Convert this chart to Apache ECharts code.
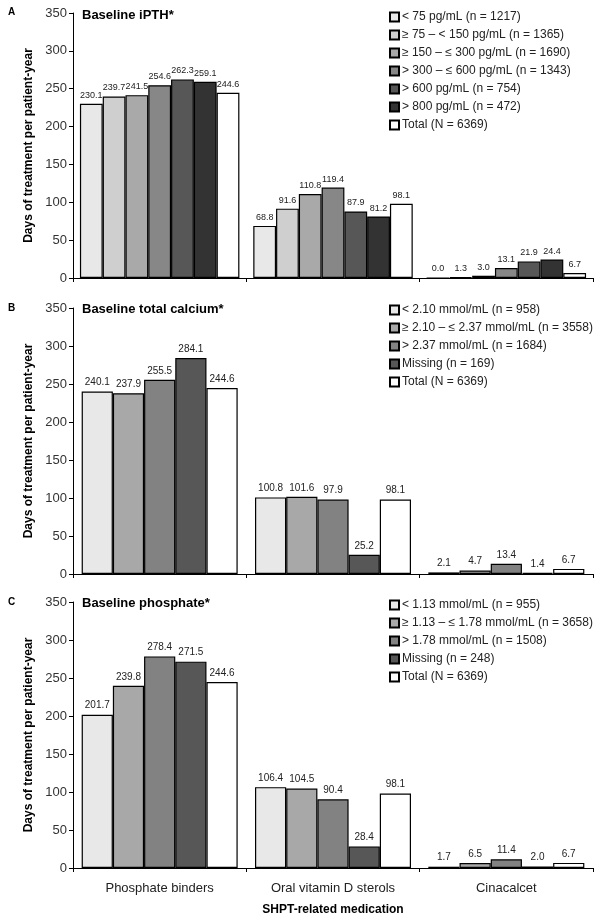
<!DOCTYPE html>
<html>
<head>
<meta charset="utf-8">
<script src="https://cdn.jsdelivr.net/npm/echarts@6/dist/echarts.min.js"></script>
<style>
  html, body { margin: 0; padding: 0; background: #fff; }
  #main { width: 600px; height: 920px; }
</style>
</head>
<body>
<div id="main"></div>
<script>
var categories = ['Phosphate binders', 'Oral vitamin D sterols', 'Cinacalcet'];

// Panel A: baseline iPTH
var pthNames = [
  '< 75 pg/mL (n = 1217)',
  '≥ 75 – < 150 pg/mL (n = 1365)',
  '≥ 150 – ≤ 300 pg/mL (n = 1690)',
  '> 300 – ≤ 600 pg/mL (n = 1343)',
  '> 600 pg/mL (n = 754)',
  '> 800 pg/mL (n = 472)',
  'Total (N = 6369)'
];
var pthValues = [
  [230.1, 68.8, 0.0],
  [239.7, 91.6, 1.3],
  [241.5, 110.8, 3.0],
  [254.6, 119.4, 13.1],
  [262.3, 87.9, 21.9],
  [259.1, 81.2, 24.4],
  [244.6, 98.1, 6.7]
];

// Panel B: baseline total calcium
var caNames = [
  '< 2.10 mmol/mL (n = 958)',
  '≥ 2.10 – ≤ 2.37 mmol/mL (n = 3558)',
  '> 2.37 mmol/mL (n = 1684)',
  'Missing (n = 169)',
  'Total (N = 6369)'
];
var caValues = [
  [240.1, 100.8, 2.1],
  [237.9, 101.6, 4.7],
  [255.5, 97.9, 13.4],
  [284.1, 25.2, 1.4],
  [244.6, 98.1, 6.7]
];

// Panel C: baseline phosphate
var phNames = [
  '< 1.13 mmol/mL (n = 955)',
  '≥ 1.13 – ≤ 1.78 mmol/mL (n = 3658)',
  '> 1.78 mmol/mL (n = 1508)',
  'Missing (n = 248)',
  'Total (N = 6369)'
];
var phValues = [
  [201.7, 106.4, 1.7],
  [239.8, 104.5, 6.5],
  [278.4, 90.4, 11.4],
  [271.5, 28.4, 2.0],
  [244.6, 98.1, 6.7]
];

var yTicks = { min: 0, max: 350, interval: 50 };

var pthColors = ['#e8e8e8', '#cfcfcf', '#a9a9a9', '#878787', '#575757', '#333333', '#ffffff'];
var fiveColors = ['#e8e8e8', '#a8a8a8', '#828282', '#575757', '#ffffff'];

var font = 'Liberation Sans, Arial, sans-serif';
var textColor = '#222';

var grids = [
  { left: 73, right: 7, top: 13, height: 265 },
  { left: 73, right: 7, top: 308, height: 266 },
  { left: 73, right: 7, top: 602, height: 266 }
];

function makeX(i, showLabels) {
  return {
    type: 'category',
    gridIndex: i,
    data: categories,
    axisLine: { lineStyle: { color: '#000', width: 1 } },
    axisTick: { show: true, length: 4, interval: 0, lineStyle: { color: '#000' } },
    axisLabel: { show: showLabels, interval: 0, margin: 14, fontFamily: font, fontSize: 13, color: textColor },
    name: showLabels ? 'SHPT-related medication' : '',
    nameLocation: 'middle',
    nameGap: 36,
    nameTextStyle: { fontFamily: font, fontSize: 12, fontWeight: 'bold', color: '#000' }
  };
}

function makeY(i) {
  return {
    type: 'value',
    gridIndex: i,
    min: yTicks.min,
    max: yTicks.max,
    interval: yTicks.interval,
    splitLine: { show: false },
    axisLine: { show: true, lineStyle: { color: '#000', width: 1 } },
    axisTick: { show: true, length: 4, lineStyle: { color: '#000' } },
    axisLabel: { margin: 6, fontFamily: font, fontSize: 13, color: '#333' },
    name: 'Days of treatment per patient-year',
    nameLocation: 'middle',
    nameRotate: 90,
    nameGap: 30,
    nameTextStyle: { fontFamily: font, fontSize: 12, fontWeight: 'bold', color: '#000' }
  };
}

function makeSeries(names, values, colors, idx, gap, labelSize) {
  return names.map(function (n, k) {
    return {
      name: n,
      type: 'bar',
      xAxisIndex: idx,
      yAxisIndex: idx,
      data: values[k],
      barGap: '0%',
      barCategoryGap: gap,
      itemStyle: { color: colors[k], borderColor: '#000', borderWidth: 1.2 },
      label: {
        show: true,
        position: 'top',
        distance: 4,
        fontFamily: font,
        fontSize: labelSize,
        color: textColor,
        formatter: function (p) { return p.value.toFixed(1); }
      },
      animation: false
    };
  });
}

function makeLegend(names, top) {
  return {
    data: names,
    orient: 'vertical',
    left: 384,
    top: top,
    icon: 'rect',
    itemWidth: 9,
    itemHeight: 9,
    itemGap: 6,
    selectedMode: false,
    textStyle: { fontFamily: font, fontSize: 12, color: textColor, padding: [0, 0, 0, -2] }
  };
}

var titleStyle = { fontFamily: font, fontSize: 13, fontWeight: 'bold', color: '#000' };
var letterStyle = { fontFamily: font, fontSize: 10, fontWeight: 'bold', color: '#000' };

var option = {
  backgroundColor: '#fff',
  animation: false,
  title: [
    { text: 'A', left: 8, top: 7, padding: 0, textStyle: letterStyle },
    { text: 'B', left: 8, top: 303, padding: 0, textStyle: letterStyle },
    { text: 'C', left: 8, top: 597, padding: 0, textStyle: letterStyle },
    { text: 'Baseline iPTH*', left: 82, top: 9, padding: 0, textStyle: titleStyle },
    { text: 'Baseline total calcium*', left: 82, top: 303, padding: 0, textStyle: titleStyle },
    { text: 'Baseline phosphate*', left: 82, top: 597, padding: 0, textStyle: titleStyle }
  ],
  legend: [
    makeLegend(pthNames, 6),
    makeLegend(caNames, 299),
    makeLegend(phNames, 594)
  ],
  grid: grids,
  xAxis: [makeX(0, false), makeX(1, false), makeX(2, true)],
  yAxis: [makeY(0), makeY(1), makeY(2)],
  series: []
    .concat(makeSeries(pthNames, pthValues, pthColors, 0, '8%', 9))
    .concat(makeSeries(caNames, caValues, fiveColors, 1, '10%', 10))
    .concat(makeSeries(phNames, phValues, fiveColors, 2, '10%', 10))
};

var chart = echarts.init(document.getElementById('main'));
chart.setOption(option);
</script>
</body>
</html>
